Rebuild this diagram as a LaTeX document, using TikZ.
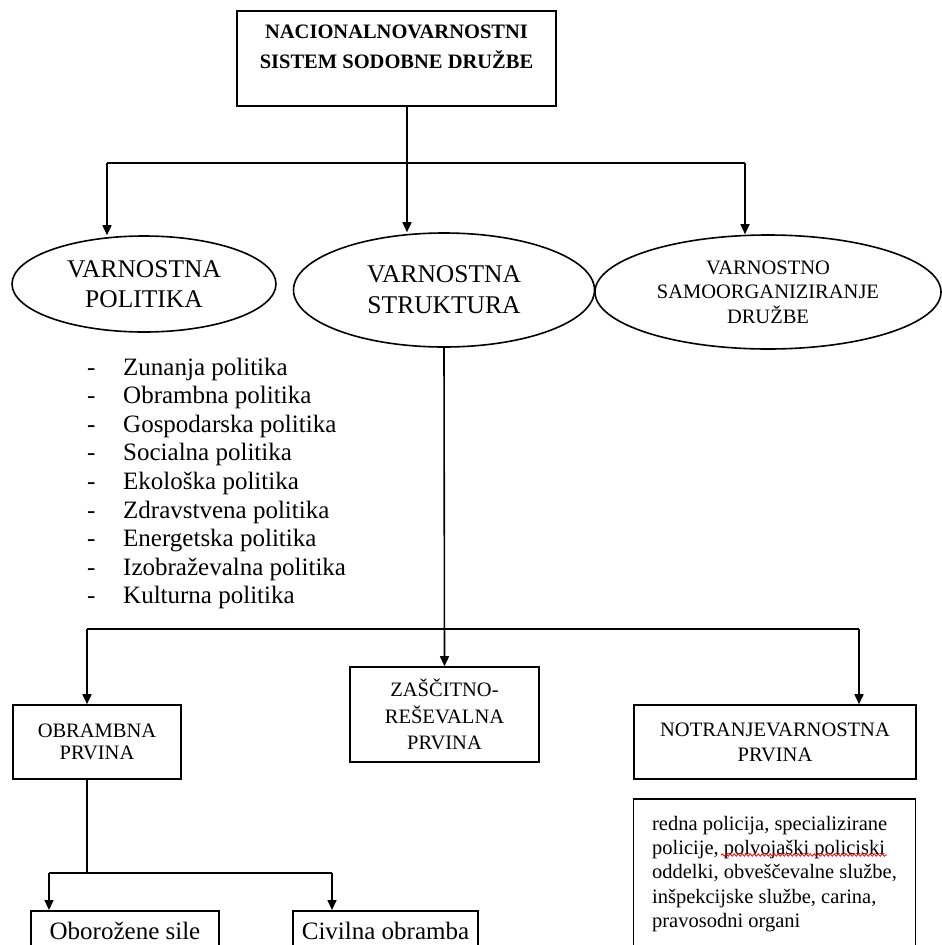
\documentclass[tikz,border=0pt]{standalone}
\usepackage{fontspec}
\setmainfont{Liberation Serif}
\usetikzlibrary{shapes.geometric,arrows.meta,decorations.pathmorphing}

\begin{document}
\begin{tikzpicture}[x=1pt,y=-1pt,
  every node/.style={inner sep=0pt},
  box/.style={draw, rectangle, line width=1.6pt, align=center},
  oval/.style={draw, ellipse, line width=1.6pt, align=center},
  link/.style={line width=1.6pt},
  arr/.style={line width=1.6pt, -{Triangle[length=10pt,width=9pt]}}]
\useasboundingbox (0,0) rectangle (942,945);
\clip (0,0) rectangle (942,945);

% top box
\node[box, anchor=north, minimum width=319pt, inner ysep=4pt, text height=54pt, text depth=33pt,
  font=\bfseries\fontsize{20.5}{30}\selectfont] (nvs) at (396.5,10) {NACIONALNOVARNOSTNI\\SISTEM SODOBNE DRUŽBE};

% three ellipses
\node[oval, minimum width=264pt, minimum height=96pt, font=\fontsize{25.5}{30}\selectfont] (vpol) at (144,284) {VARNOSTNA\\POLITIKA};
\node[oval, minimum width=301pt, minimum height=114pt, font=\fontsize{25.5}{31}\selectfont] (vstr) at (444,290) {VARNOSTNA\\STRUKTURA};
\node[oval, minimum width=346pt, minimum height=114pt, font=\fontsize{20.5}{24.5}\selectfont] (vsam) at (768,292) {VARNOSTNO\\SAMOORGANIZIRANJE\\DRUŽBE};

\coordinate (j0) at (407,163);
\coordinate (jl) at (107,163);
\coordinate (jr) at (745,163);
\draw[link] (j0 |- nvs.south) -- (j0);
\draw[link] (jl) -- (jr);
\draw[arr] (jl) -- (jl |- vpol.north);
\draw[arr] (j0) -- (j0 |- vstr.north);
\draw[arr] (jr) -- (jr |- vsam.north);

% list of policies
\foreach \t [count=\i] in {Zunanja politika, Obrambna politika, Gospodarska politika, Socialna politika,
  Ekološka politika, Zdravstvena politika, Energetska politika, Izobraževalna politika, Kulturna politika} {
  \node[anchor=base west, font=\fontsize{25}{30}\selectfont] (dash\i) at (87,375+28.6*\i-28.6) {-};
  \node[anchor=base west, font=\fontsize{25}{30}\selectfont] (pol\i) at (123,375+28.6*\i-28.6) {\t};
}

% second level boxes
\node[box, minimum width=168pt, minimum height=74pt, font=\fontsize{20.5}{22}\selectfont] (obp) at (97,742) {OBRAMBNA\\PRVINA};
\node[box, minimum width=189pt, minimum height=95pt, font=\fontsize{20.5}{26.5}\selectfont] (zrp) at (444.5,714.5) {ZAŠČITNO-\\REŠEVALNA\\PRVINA};
\node[box, minimum width=282pt, minimum height=74pt, font=\fontsize{20.5}{25}\selectfont] (nvp) at (775,742) {NOTRANJEVARNOSTNA\\PRVINA};

\coordinate (kl) at (87,629);
\coordinate (kr) at (859,629);
\draw[arr] (vstr.south) -- (zrp.north);
\draw[link] (kl) -- (kr);
\draw[arr] (kl) -- (kl |- obp.north);
\draw[arr] (kr) -- (kr |- nvp.north);

% police text
\node[box, anchor=north, minimum width=282pt, minimum height=150pt, align=left,
  font=\fontsize{20.5}{24.3}\selectfont] (pdet) at (774.5,798)
  {redna policija, specializirane\\policije, polvojaški policiski\\oddelki, obveščevalne službe,\\inšpekcijske službe, carina,\\pravosodni organi};
\draw[red, line width=0.8pt, decorate, decoration={snake, amplitude=1.2pt, segment length=4pt}] (721,855) -- (887,855);

% bottom boxes
\node[box, anchor=north, minimum width=188pt, minimum height=40pt, font=\fontsize{25}{30}\selectfont] (obs) at (125,910) {Oborožene sile};
\node[box, anchor=north, minimum width=185pt, minimum height=40pt, font=\fontsize{25}{30}\selectfont] (cob) at (385.5,910) {Civilna obramba};

\coordinate (m0) at (87,873);
\coordinate (ml) at (49,873);
\coordinate (mr) at (332,873);
\draw[link] (m0 |- obp.south) -- (m0);
\draw[link] (ml) -- (mr);
\draw[arr] (ml) -- (ml |- obs.north);
\draw[arr] (mr) -- (mr |- cob.north);
\end{tikzpicture}
\end{document}
